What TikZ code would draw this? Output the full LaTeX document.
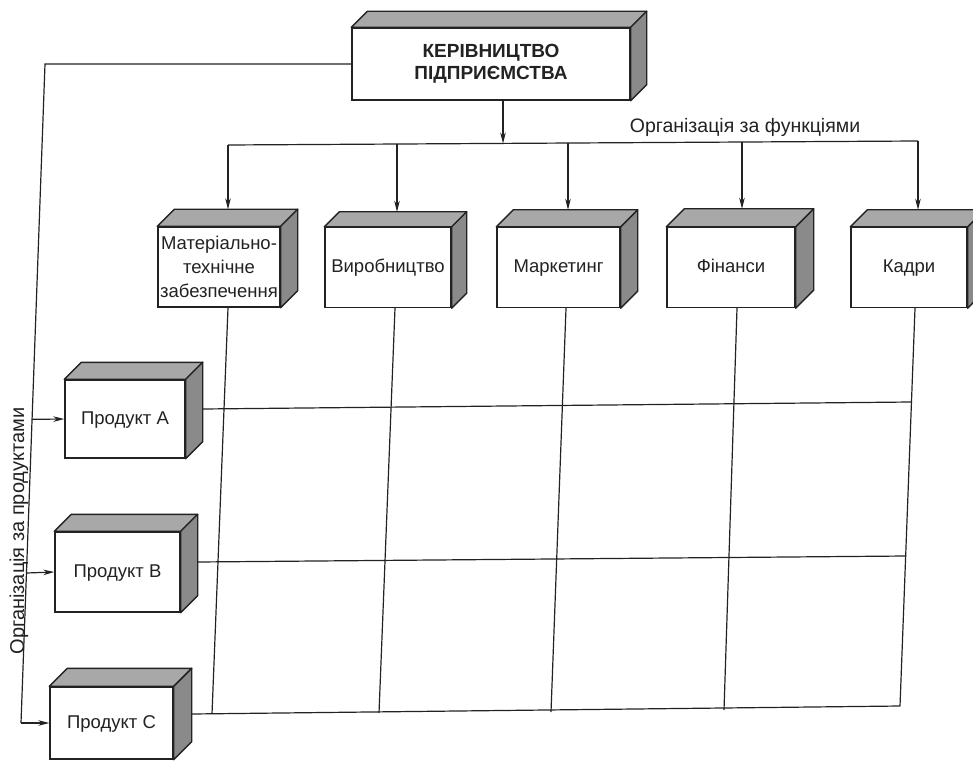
\documentclass[tikz,border=0pt]{standalone}
\usepackage{fontspec}
\setmainfont{Liberation Sans}
\usetikzlibrary{arrows.meta,calc}
\definecolor{topg}{HTML}{A8A8A8}
\definecolor{sideg}{HTML}{8A8A8A}
\definecolor{ink}{HTML}{222222}
\newcommand{\cubefaces}[2]{%
  \filldraw[fill=topg,draw=ink,line width=1.4pt,line join=round]
    (#1.north west) -- ++(#2,-#2) -- ($(#1.north east)+(#2,-#2)$) -- (#1.north east) -- cycle;
  \filldraw[fill=sideg,draw=ink,line width=1.4pt,line join=round]
    (#1.north east) -- ++(#2,-#2) -- ($(#1.south east)+(#2,-#2)$) -- (#1.south east) -- cycle;
  \coordinate (#1-top) at ($(#1.north)+(#2,-#2)$);
}
\tikzset{
  cubefront/.style={draw=ink,line width=1.4pt,fill=white,inner sep=1pt,align=center,
    font=\fontsize{18.5}{24}\selectfont},
  oneline/.style={text height=13.5pt,text depth=3.5pt},
  arr/.style={-{Stealth[length=11pt,width=5.5pt]}},
  ln/.style={draw=ink,line width=1.2pt}
}
\begin{document}
\begin{tikzpicture}[x=1pt,y=-1pt,color=ink]
\useasboundingbox (0,0) rectangle (973,767);
\fill[white] (0,0) rectangle (973,767);
\clip (0,0) rectangle (973,767);

% top management box
\node[cubefront,minimum width=278pt,minimum height=72pt,
  font=\bfseries\fontsize{19}{22}\selectfont] (top) at (491,64)
  {КЕРІВНИЦТВО\\ПІДПРИЄМСТВА};
\cubefaces{top}{16}

% function boxes
\node[cubefront,minimum width=122pt,minimum height=80pt] (mat) at (219,267)
  {Матеріально-\\технічне\\забезпечення};
\cubefaces{mat}{17}
\node[cubefront,oneline,minimum width=126pt,minimum height=80pt] (vyr) at (388,267.5) {Виробництво};
\cubefaces{vyr}{15}
\node[cubefront,oneline,minimum width=123pt,minimum height=80pt] (mark) at (558.5,267.5) {Маркетинг};
\cubefaces{mark}{17}
\node[cubefront,oneline,minimum width=128pt,minimum height=80pt] (fin) at (731,267.5) {Фінанси};
\cubefaces{fin}{18}
\node[cubefront,oneline,minimum width=116pt,minimum height=80pt] (kad) at (909,267.5) {Кадри};
\cubefaces{kad}{17}

% product boxes
\node[cubefront,oneline,minimum width=120pt,minimum height=78pt] (pa) at (125,419) {Продукт А};
\cubefaces{pa}{17}
\node[cubefront,oneline,minimum width=125pt,minimum height=80pt] (pb) at (117.5,572) {Продукт В};
\cubefaces{pb}{17}
\node[cubefront,oneline,minimum width=123pt,minimum height=72pt] (pc) at (111.5,723) {Продукт С};
\cubefaces{pc}{18}

% labels
\node[font=\fontsize{19.5}{22}\selectfont] (lf) at (745,127) {Організація за функціями};
\node[rotate=90,font=\fontsize{20}{22}\selectfont] (lp) at (19,531) {Організація за продуктами};

% functional bus
\coordinate (bus0) at (503,143.5);
\coordinate (b1) at (228,145);
\coordinate (b2) at (397,144);
\coordinate (b3) at (568,143);
\coordinate (b4) at (742,142);
\coordinate (b5) at (918,141);
\draw[ln,arr] (top.south -| bus0) -- (bus0);
\draw[ln] (b1) -- (b5);
\draw[ln,arr] (b1) -- (b1 |- mat-top);
\draw[ln,arr] (b2) -- (b2 |- vyr-top);
\draw[ln,arr] (b3) -- (b3 |- mark-top);
\draw[ln,arr] (b4) -- (b4 |- fin-top);
\draw[ln,arr] (b5) -- (b5 |- kad-top);

% product line
\coordinate (L0) at (45,64);
\coordinate (L1) at (21,723);
\draw[ln] (top.west) -- (L0) -- (L1);
\draw[ln,arr] (L1) -- (pc.west);
\draw[ln,arr] ($(L0)!0.5392!(L1)$) -- (pa.west);
\draw[ln,arr] ($(L0)!0.7724!(L1)$) -- (pb.west);

% matrix grid
\coordinate (m1) at (212,714);
\coordinate (m2) at (379,713);
\coordinate (m3) at (551,712);
\coordinate (m4) at (724,710);
\coordinate (m5) at (900,706);
\draw[ln] (mat.south -| 228,0) -- (m1);
\draw[ln] (vyr.south -| 395,0) -- (m2);
\draw[ln] (mark.south -| 566,0) -- (m3);
\draw[ln] (fin.south -| 737,0) -- (m4);
\draw[ln] (kad.south -| 915,0) -- (m5);
\draw[ln] (pa.east) ++(17,-10) -- (911,402);
\draw[ln] (pb.east) ++(17,-10) -- (906,556);
\draw[ln] (pc.east) ++(18,-9) -- (m5);
\end{tikzpicture}
\end{document}
